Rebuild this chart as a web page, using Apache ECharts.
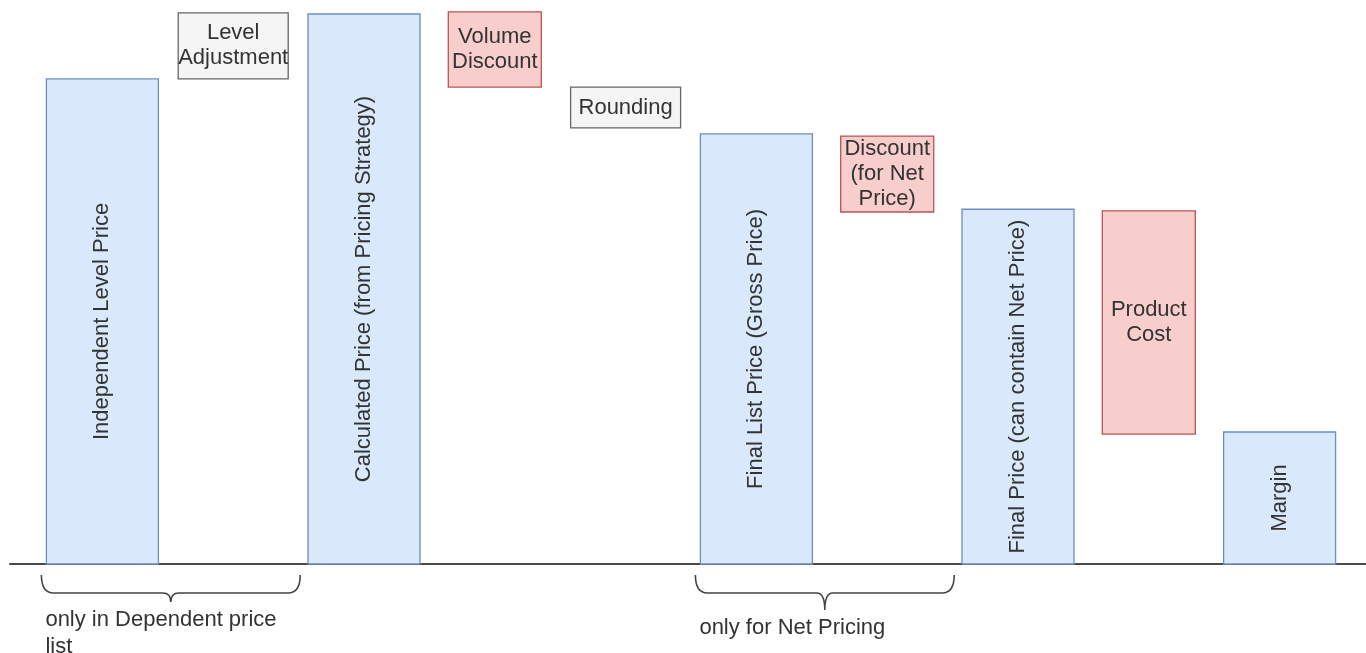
<!DOCTYPE html>
<html>
<head>
<meta charset="utf-8">
<title>Price calculation steps</title>
<script src="https://cdn.jsdelivr.net/npm/echarts@6/dist/echarts.min.js"></script>
<style>
  html, body { margin: 0; padding: 0; background: #ffffff; }
  #chart { width: 1366px; height: 653px; }
</style>
</head>
<body>
<div id="chart"></div>
<script>
// Price steps, left to right
const steps = [
  'Independent Level Price',
  'Level\nAdjustment',
  'Calculated Price (from Pricing Strategy)',
  'Volume\nDiscount',
  'Rounding',
  'Final List Price (Gross Price)',
  'Discount\n(for Net\nPrice)',
  'Final Price (can contain Net Price)',
  'Product\nCost',
  'Margin'
];
// total = running price, adjust = neutral change, deduct = reduction
const stepKind = ['total', 'adjust', 'total', 'deduct', 'adjust', 'total', 'deduct', 'total', 'deduct', 'total'];
const stepLow  = [0,    88.2,  0,   86.7,  79.3, 0,    64.0, 0,    23.6, 0];
const stepHigh = [88.2, 100.2, 100, 100.4, 86.7, 78.2, 77.8, 64.5, 64.2, 24.0];

// Bracketed groups of steps
const braceFrom = [0, 5];
const braceTo   = [1, 6];
const braceText = ['only in Dependent price list', 'only for Net Pricing'];

const FONT = '"Liberation Sans", Arial, Helvetica, sans-serif';
const TEXT_COLOR = '#333333';

const KIND_STYLE = {
  total:  { fill: '#dae8fc', stroke: '#6c8ebf', width: 112 },
  adjust: { fill: '#f5f5f5', stroke: '#666666', width: 110 },
  deduct: { fill: '#f8cecc', stroke: '#b85450', width: 93 }
};

// how far each brace tip drops below its arm
const BRACE_TIP = [9, 17];

function renderStep(params, api) {
  const i = api.value(0);
  const kind = stepKind[i];
  const st = KIND_STYLE[kind];
  const top = api.coord([i, api.value(2)]);
  const bot = api.coord([i, api.value(1)]);
  const x = top[0] - st.width / 2;
  const h = bot[1] - top[1];
  const cy = top[1] + h / 2;
  const label = {
    type: 'text',
    x: top[0],
    y: cy,
    rotation: kind === 'total' ? Math.PI / 2 : 0,
    style: {
      text: steps[i],
      fill: TEXT_COLOR,
      fontSize: 22,
      fontFamily: FONT,
      lineHeight: 25,
      align: 'center',
      verticalAlign: 'middle'
    },
    z2: 10
  };
  return {
    type: 'group',
    children: [
      {
        type: 'rect',
        shape: { x: x, y: top[1], width: st.width, height: h },
        style: { fill: st.fill, stroke: st.stroke, lineWidth: 1.3 }
      },
      label
    ]
  };
}

function renderBrace(params, api) {
  const k = params.dataIndex;
  const base = api.coord([api.value(0), 0]);
  const end = api.coord([api.value(1), 0]);
  const y0 = base[1];
  const x0 = base[0] - 61;
  const x1 = end[0] + 67;
  const mid = (x0 + x1) / 2;
  const yTop = y0 + 11;
  const yArm = y0 + 29;
  const yTip = yArm + BRACE_TIP[k];
  const r = 12;
  const d = [
    'M', x0, yTop,
    'Q', x0, yArm, x0 + r, yArm,
    'L', mid - 8, yArm,
    'Q', mid, yArm, mid, yTip,
    'Q', mid, yArm, mid + 8, yArm,
    'L', x1 - r, yArm,
    'Q', x1, yArm, x1, yTop
  ].join(' ');
  return {
    type: 'group',
    children: [
      {
        type: 'path',
        shape: { pathData: d },
        style: { fill: null, stroke: '#444444', lineWidth: 1.6 }
      },
      {
        type: 'text',
        x: x0 + 4,
        y: yTip + 4,
        style: {
          text: braceText[k],
          fill: TEXT_COLOR,
          fontSize: 22,
          fontFamily: FONT,
          lineHeight: 27,
          width: 245,
          overflow: 'break',
          align: 'left',
          verticalAlign: 'top'
        }
      }
    ]
  };
}

const chart = echarts.init(document.getElementById('chart'), null, { renderer: 'canvas' });

chart.setOption({
  backgroundColor: '#ffffff',
  animation: false,
  grid: [
    { left: 37, right: 21, top: 14, bottom: 89 },
    { left: 10, right: 0, top: 14, bottom: 89 }
  ],
  xAxis: [
    {
      type: 'category',
      gridIndex: 0,
      data: steps,
      show: false
    },
    {
      // baseline across the full width
      type: 'value',
      gridIndex: 1,
      min: 0,
      max: 1,
      axisLine: { show: true, onZero: false, lineStyle: { color: '#4a4a4a', width: 2 } },
      axisTick: { show: false },
      axisLabel: { show: false },
      splitLine: { show: false }
    }
  ],
  yAxis: [
    { type: 'value', gridIndex: 0, min: 0, max: 100, show: false },
    { type: 'value', gridIndex: 1, min: 0, max: 100, show: false }
  ],
  series: [
    {
      type: 'custom',
      name: 'steps',
      xAxisIndex: 0,
      yAxisIndex: 0,
      clip: false,
      renderItem: renderStep,
      encode: { x: 0, y: [1, 2] },
      data: stepLow.map((lo, i) => [i, lo, stepHigh[i]]),
      z: 3
    },
    {
      type: 'custom',
      name: 'groups',
      xAxisIndex: 0,
      yAxisIndex: 0,
      clip: false,
      renderItem: renderBrace,
      encode: { x: [0, 1], y: 2 },
      data: braceFrom.map((s, i) => [s, braceTo[i], 0]),
      z: 3
    }
  ]
});
</script>
</body>
</html>
